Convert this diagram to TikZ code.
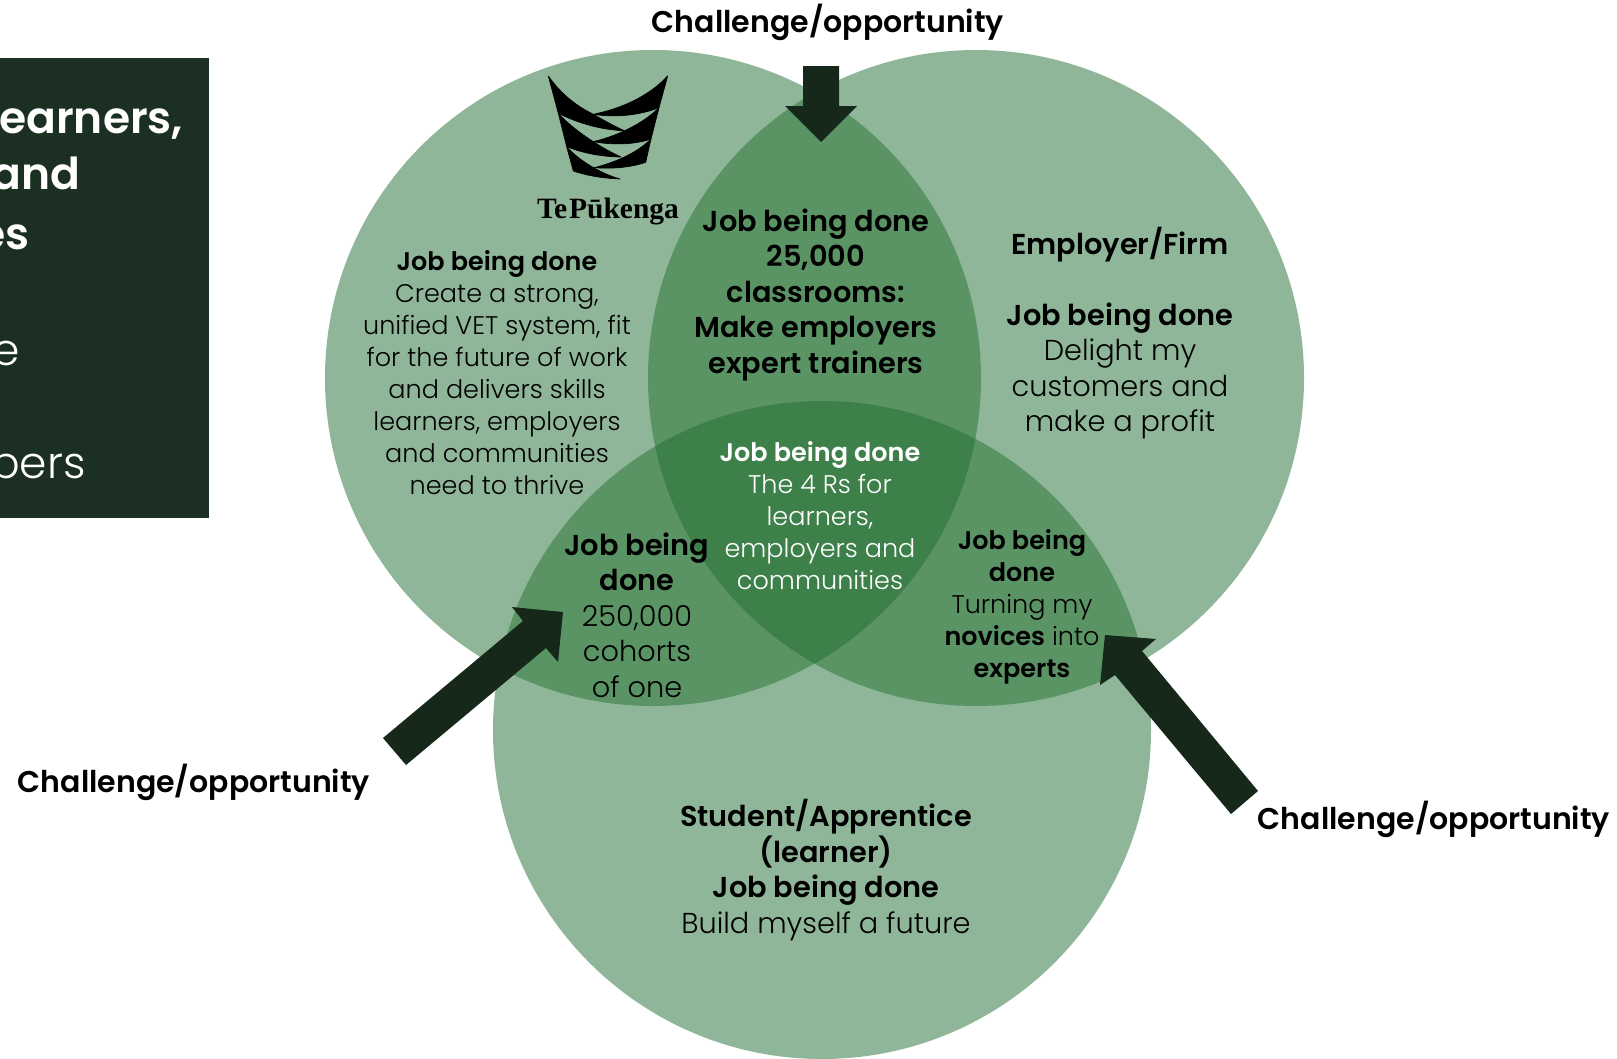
\documentclass[tikz,border=0pt]{standalone}
\usepackage{fontspec}
\setmainfont{Poppins}[UprightFont=* Light,BoldFont=* SemiBold]
\newfontfamily\logofont{Liberation Serif}
\definecolor{boxc}{HTML}{1B3022}
\definecolor{arrowc}{HTML}{16281A}
\definecolor{lightc}{HTML}{8FB698}
\definecolor{midc}{HTML}{5A9465}
\definecolor{darkc}{HTML}{3D8049}
\tikzset{
  small/.style={align=center,inner sep=0pt,font=\fontsize{25.5}{32}\selectfont},
  large/.style={align=center,inner sep=0pt,font=\fontsize{28.8}{35.5}\selectfont},
  chal/.style={inner sep=0pt,font=\fontsize{30}{32}\selectfont\bfseries},
  boxb/.style={inner sep=0pt,anchor=base west,text=white,font=\fontsize{44}{50}\selectfont\bfseries},
  boxr/.style={inner sep=0pt,anchor=base west,text=white,font=\fontsize{44}{50}\selectfont},
  bigarrow/.style={fill=arrowc,draw=none},
  logoband/.style={fill=black,draw=black,line width=0.7pt,line join=round},
}
\begin{document}
\begin{tikzpicture}[x=1pt,y=-1pt]
\useasboundingbox (0,0) rectangle (1617,1058);
\fill[white] (0,0) rectangle (1617,1058);
\fill[boxc] (0,58) rectangle (209,518);
\node[boxb] (b1) at (-1,133) {earners,};
\node[boxb] (b2) at (-9,189) {and};
\node[boxb] (b3) at (-22,249) {es};
\node[boxr] (b4) at (-8,365) {e};
\node[boxr] (b5) at (-10,478) {bers};
\coordinate (cl) at (653,378);
\coordinate (cr) at (976,378);
\coordinate (cb) at (822,730);
\fill[lightc] (cl) circle (328);
\fill[lightc] (cr) circle (328);
\fill[lightc] (cb) circle (329);
\begin{scope}\clip (cl) circle (328); \fill[midc] (cr) circle (328); \fill[midc] (cb) circle (329); \end{scope}
\begin{scope}\clip (cr) circle (328); \fill[midc] (cb) circle (329); \end{scope}
\begin{scope}\clip (cl) circle (328); \clip (cr) circle (328); \fill[darkc] (cb) circle (329); \end{scope}
% logo
\begin{scope}[shift={(535,65)},x=0.3333pt,y=-0.3333pt]
\fill[logoband] (40,33) .. controls (90,105) and (150,135) .. (175,148) .. controls (205,165) and (240,185) .. (268,197) .. controls (200,195) and (130,175) .. (70,145) -- cycle;
\fill[logoband] (398,33) .. controls (340,95) and (260,130) .. (175,148) .. controls (240,158) and (310,152) .. (372,128) -- cycle;
\fill[logoband] (70,145) .. controls (110,190) and (190,245) .. (258,276) .. controls (200,275) and (145,265) .. (95,245) -- cycle;
\fill[logoband] (372,128) .. controls (325,175) and (250,212) .. (175,230) .. controls (230,240) and (295,240) .. (348,222) -- cycle;
\fill[logoband] (95,245) .. controls (130,285) and (195,325) .. (255,342) .. controls (205,340) and (155,332) .. (115,318) -- cycle;
\fill[logoband] (348,222) .. controls (305,265) and (240,292) .. (178,308) .. controls (230,312) and (285,308) .. (332,292) -- cycle;
\end{scope}
\node[inner sep=0pt,anchor=base,font=\logofont\bfseries\fontsize{29.5}{34}\selectfont] (logo) at (608,218) {\spaceskip=2pt Te Pūkenga};
% region texts
\node[small] (left) at (497,373) {\textbf{Job being done}\\Create a strong,\\unified VET system, fit\\for the future of work\\and delivers skills\\learners, employers\\and communities\\need to thrive};
\node[large] (top) at (816,295) {\textbf{Job being done}\\\textbf{25,000}\\\textbf{classrooms:}\\\textbf{Make employers}\\\textbf{expert trainers}};
\node[large] (right) at (1120,333) {\textbf{Employer/Firm}\\[0pt]\mbox{}\\\textbf{Job being done}\\Delight my\\customers and\\make a profit};
\node[small,text=white] (mid) at (820,516) {\textbf{Job being done}\\The 4 Rs for\\learners,\\employers and\\communities};
\node[large] (ll) at (637,615) {\textbf{Job being}\\\textbf{done}\\250,000\\cohorts\\of one};
\node[small] (lr) at (1022,607) {\textbf{Job being}\\\textbf{done}\\Turning my\\\textbf{novices} into\\\textbf{experts}};
\node[large] (bot) at (826,870) {\textbf{Student/Apprentice}\\\textbf{(learner)}\\\textbf{Job being done}\\Build myself a future};
% arrows
\fill[bigarrow] (803,66) -- (839,66) -- (839,106) -- (857,106) -- (821,142) -- (785,106) -- (803,106) -- cycle;
\fill[bigarrow] (383,738) -- (406,765) -- (546,648) -- (558,662) -- (563,612) -- (512,607) -- (523,621) -- cycle;
\fill[bigarrow] (1231,814) -- (1258,791) -- (1142,651) -- (1156,639) -- (1105,635) -- (1100,685) -- (1115,675) -- cycle;
\node[chal] (t1) at (828,22) {Challenge/opportunity};
\node[chal] (t2) at (194,782) {Challenge/opportunity};
\node[chal] (t3) at (1434,819) {Challenge/opportunity};
\end{tikzpicture}
\end{document}
